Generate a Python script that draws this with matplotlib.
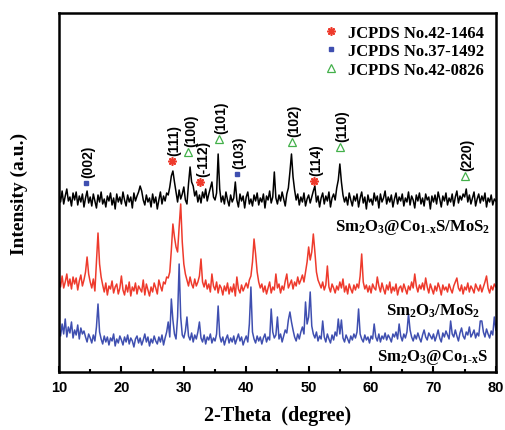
import numpy as np
import matplotlib
matplotlib.use("Agg")
import matplotlib.pyplot as plt
from matplotlib.lines import Line2D

plt.rcParams['mathtext.fontset'] = 'custom'
plt.rcParams['mathtext.rm'] = 'Liberation Serif:bold'
plt.rcParams['mathtext.it'] = 'Liberation Serif:bold'
plt.rcParams['mathtext.bf'] = 'Liberation Serif:bold'

# 2-theta sampling, 10..80 deg in 0.25 deg steps
two_theta = np.linspace(10, 80, 281)

# intensities (a.u., stacked offsets already included)
co_mos2 = [
    178,170,181,168,176,183,171,175,166,179,
    172,180,167,176,170,178,165,174,181,169,
    175,166,178,171,164,177,170,180,168,173,
    165,176,171,179,167,174,163,178,170,175,
    168,180,172,166,177,170,175,164,179,171,
    176,180,186,181,172,167,177,170,174,165,
    178,169,175,163,172,180,168,176,171,179,
    177,185,196,201,190,180,170,182,173,178,
    185,172,168,188,205,190,186,176,181,170,
    177,169,180,174,183,171,178,184,190,175,
    172,179,218,183,170,176,168,180,172,166,
    177,170,174,190,172,165,178,171,176,164,
    175,180,168,173,166,177,171,179,167,174,
    170,178,164,176,172,181,169,175,200,174,
    168,177,171,180,173,166,178,184,200,218,
    195,182,172,178,167,175,170,179,166,173,
    177,169,175,181,186,170,176,165,174,179,
    168,176,171,180,165,174,178,172,184,192,
    208,190,177,170,175,167,179,172,166,176,
    171,178,165,174,180,169,175,163,177,170,
    173,167,179,171,176,164,178,170,174,181,
    168,175,170,177,165,173,179,168,175,171,
    178,166,174,170,180,167,176,172,164,177,
    171,179,168,174,166,178,172,175,163,176,
    170,177,168,180,173,165,176,171,179,167,
    174,170,178,166,175,181,169,176,172,178,
    175,183,170,177,168,174,180,166,173,178,
    169,176,171,179,165,174,170,177,167,173,
    171]

sm_mos2 = [
    92,85,96,84,90,98,86,93,83,95,
    88,94,82,91,97,86,92,100,115,98,
    90,84,93,81,110,139,108,95,87,80,
    89,77,86,83,91,79,85,88,78,84,
    96,82,77,87,80,90,76,85,81,89,
    78,86,83,80,92,77,88,82,76,85,
    80,89,84,78,92,86,81,90,88,95,
    94,100,122,148,135,125,120,145,168,130,
    108,98,92,86,95,88,84,93,86,90,
    96,113,90,85,92,83,88,80,98,86,
    82,90,79,87,84,77,86,81,89,78,
    85,80,88,76,95,83,79,87,81,85,
    89,84,92,96,110,133,118,100,90,84,
    88,80,86,78,84,90,79,85,82,98,
    84,88,79,86,82,91,98,84,88,92,
    83,90,86,95,88,92,97,90,100,110,
    125,112,120,138,120,100,92,88,84,90,
    82,87,106,85,80,88,84,79,86,82,
    90,84,93,80,86,78,88,83,79,87,
    82,88,84,96,118,90,83,87,80,86,
    79,88,84,82,95,86,80,89,83,78,
    87,82,90,79,85,81,88,77,84,86,
    80,88,83,78,86,82,90,84,98,86,
    80,87,83,89,82,94,85,79,88,83,
    78,86,81,89,84,77,87,82,85,80,
    88,83,79,86,90,94,84,81,87,78,
    85,82,89,80,86,83,79,88,84,81,
    87,80,85,90,96,84,79,86,82,88,
    85]

co_s = [
    44,36,48,38,53,35,45,39,50,34,
    42,37,47,33,44,38,41,35,30,38,
    34,29,37,31,45,68,40,33,28,36,
    30,35,27,34,31,38,26,33,29,36,
    32,27,35,30,37,28,34,31,25,33,
    36,29,34,27,32,38,30,35,26,33,
    29,36,31,28,35,30,37,27,34,40,
    50,35,73,52,38,33,55,108,55,37,
    34,41,55,36,32,39,30,37,33,40,
    50,34,30,37,28,35,32,38,29,34,
    31,38,66,36,30,35,27,33,37,29,
    34,30,36,28,33,38,31,35,27,32,
    36,30,48,85,40,33,29,36,31,35,
    28,34,38,30,35,32,63,40,34,37,
    55,33,38,30,36,42,39,52,60,50,
    42,35,31,38,33,40,45,38,70,48,
    55,80,46,38,34,40,31,36,33,51,
    35,30,38,33,29,37,32,40,36,53,
    38,52,34,30,37,33,29,36,32,38,
    34,40,63,38,33,30,37,32,35,29,
    36,33,48,35,31,38,30,36,33,39,
    32,37,34,30,38,35,40,33,48,36,
    31,38,34,40,58,42,35,31,37,33,
    39,34,30,37,42,35,32,39,36,33,
    38,31,36,42,34,30,39,35,41,37,
    33,51,38,35,42,36,31,39,44,36,
    33,40,37,45,35,38,42,34,39,36,
    51,51,40,35,43,38,34,41,37,55,
    42]

# indexed reflections on the top pattern
hkl = ['(002)', '(111)', '(100)', '(-112)', '(101)', '(103)', '(102)', '(114)', '(110)', '(220)']
hkl_pos = [14.3, 28.1, 30.7, 32.6, 35.6, 38.5, 47.3, 50.8, 55.0, 75.0]
hkl_y = [189, 211, 220, 190, 233, 198, 230, 191, 225, 196]
hkl_phase = [1, 0, 2, 0, 2, 1, 2, 0, 2, 2]

cards = ['JCPDS No.42-1464', 'JCPDS No.37-1492', 'JCPDS No.42-0826']
card_style = [
    dict(marker=(8, 2, 0), color='#ee3a2c', markersize=6, markeredgewidth=1.2),
    dict(marker='s', color='#3f4fb0', markersize=2.2),
    dict(marker='^', color='#43b04a', markerfacecolor='none', markersize=5.5, markeredgewidth=0.9),
]

fig = plt.figure(figsize=(5.06, 4.31), dpi=100)
ax = fig.add_axes([0.1166, 0.1346, 0.8634, 0.8329])

ax.plot(two_theta, co_mos2, color='black', lw=1.1)
ax.plot(two_theta, sm_mos2, color='#ee3a2c', lw=1.1)
ax.plot(two_theta, co_s, color='#3f4fb0', lw=1.1)

for lab, p, y, ph in zip(hkl, hkl_pos, hkl_y, hkl_phase):
    ax.plot([p], [y], linestyle='none', **card_style[ph])
    ax.annotate(lab, xy=(p, y), xytext=(2, 4), textcoords='offset points',
                rotation=90, ha='center', va='bottom', fontsize=10,
                fontweight='bold', family='Liberation Sans')

handles = [Line2D([], [], linestyle='none', **s) for s in card_style]
ax.legend(handles, cards, loc='upper right', frameon=False, handlelength=1.0,
          handletextpad=0.5, labelspacing=0.15, borderaxespad=0.3,
          prop={'family': 'Liberation Serif', 'weight': 'bold', 'size': 12})

lab_kw = dict(ha='right', va='center', fontsize=12, family='Liberation Serif', fontweight='bold')
ax.text(79.1, 145, r'Sm$_2$O$_3$@Co$_{1\text{-}x}$S/MoS$_2$', **lab_kw)
ax.text(77.4, 62, r'Sm$_2$O$_3$/MoS$_2$', **lab_kw)
ax.text(78.7, 15, r'Sm$_2$O$_3$@Co$_{1\text{-}x}$S', **lab_kw)

ax.set_xlim(10, 80)
ax.set_ylim(0, 359)
ax.set_xticks(np.arange(10, 81, 10))
ax.set_xticks(np.arange(15, 80, 10), minor=True)
ax.set_yticks([])
ax.tick_params(axis='x', which='both', direction='in', width=1.5, top=False)
ax.tick_params(axis='x', which='major', length=4, pad=6)
ax.tick_params(axis='x', which='minor', length=2.5)
for t in ax.get_xticklabels():
    t.set_fontweight('bold')
    t.set_fontsize(10.5)
    t.set_family('Liberation Sans')
for s in ax.spines.values():
    s.set_linewidth(1.8)

ax.set_xlabel('2-Theta  (degree)', fontsize=14.5, fontweight='bold', family='Liberation Serif', labelpad=8)
ax.set_ylabel('Intensity (a.u.)', fontsize=14, fontweight='bold', family='Liberation Serif', labelpad=22)

fig.savefig('out.png', dpi=100)
